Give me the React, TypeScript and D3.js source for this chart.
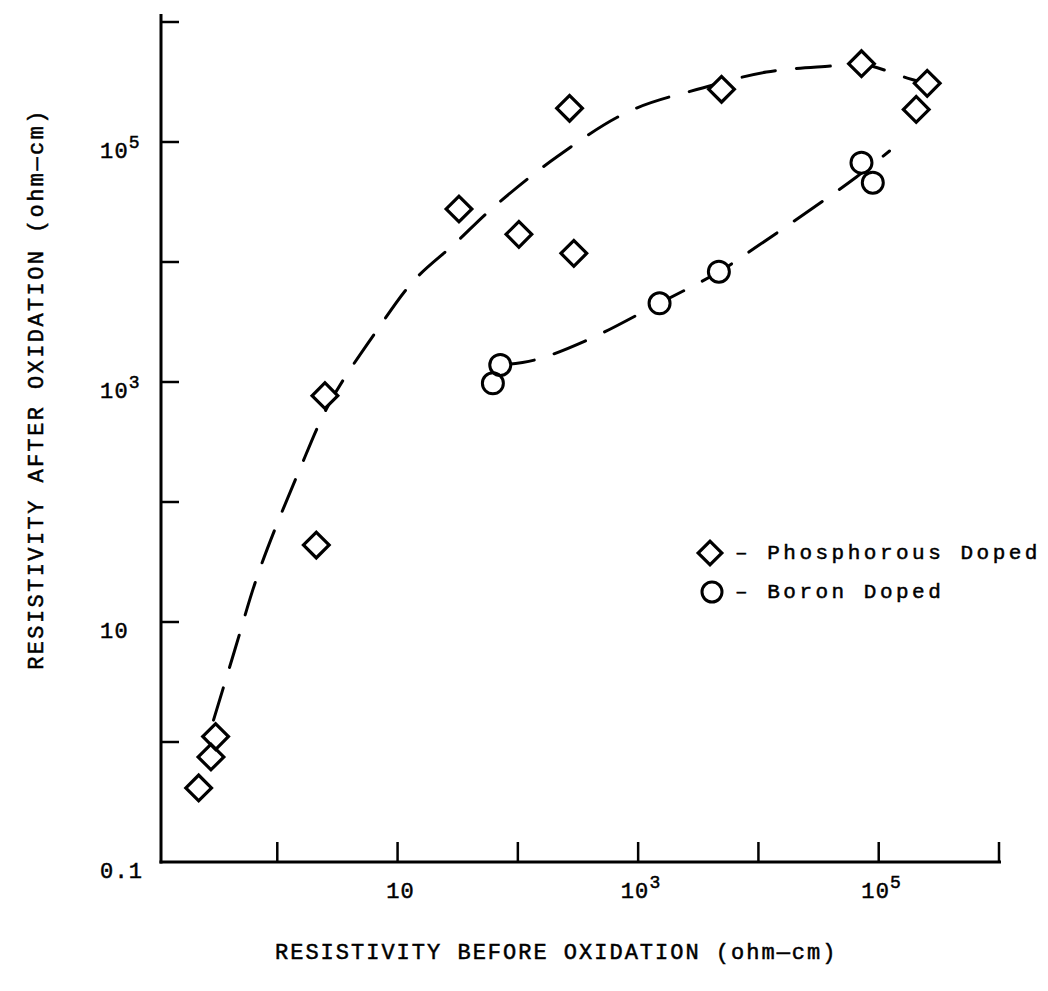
import React from "react";
import * as d3 from "d3";

// Phosphorous doped samples (resistivity before, after oxidation) in ohm-cm
const phosBefore = [0.222, 0.281, 0.307, 2.11, 2.49, 32.4, 102, 292, 269, 4935, 71900, 253000, 205000];
const phosAfter = [0.414, 0.75, 1.11, 43.8, 769, 27650, 17000, 11800, 191000, 275000, 449000, 308000, 187000];

// Boron doped samples
const boronBefore = [62, 71.4, 1507, 4690, 71900, 89300];
const boronAfter = [975, 1386, 4530, 8300, 67300, 45800];

// Hand-drawn dashed trend curves
const phosCurveX = [0.295, 0.44, 0.71, 1.53, 2.72, 6.95, 13.8, 30.3, 61.7, 210, 849, 3430, 11660, 40500, 72000, 173000, 254000];
const phosCurveY = [1.52, 5.7, 27, 185, 668, 2818, 7080, 14400, 28200, 75000, 181000, 282000, 383000, 430000, 447000, 341000, 304000];
const boronCurveX = [71.8, 138, 394, 1507, 4660, 10200, 35400, 65300, 123000];
const boronCurveY = [1386, 1525, 2280, 4545, 8250, 13900, 32900, 51100, 84100];

// Axes
const majorTicks = [1, 10, 100, 1e3, 1e4, 1e5, 1e6];
const yLabelValues = [0.1, 10, 1e3, 1e5];
const xLabelValues = [10, 1e3, 1e5];

const xTitle = "RESISTIVITY BEFORE OXIDATION (ohm\u2014cm)";
const yTitle = "RESISTIVITY AFTER OXIDATION (ohm\u2014cm)";
const legendLabels = ["\u2013 Phosphorous Doped", "\u2013 Boron Doped"];

const FONT = "'Liberation Mono', 'Courier New', monospace";

function TickLabel({ v, ...rest }: any) {
  const e = Math.round(Math.log10(v));
  if (e <= 1) {
    return <text {...rest}>{v < 1 ? String(v) : "10"}</text>;
  }
  return (
    <text {...rest}>
      10
      <tspan dy={-10} fontSize={18}>{e}</tspan>
    </text>
  );
}

export default function App() {
  const W = 1048;
  const H = 991;
  const x = d3.scaleLog().domain([0.1, 1e6]).range([157, 999]);
  const y = d3.scaleLog().domain([0.1, 1e6]).range([862, 22]);

  const line = d3
    .line<[number, number]>()
    .x((d) => x(d[0]))
    .y((d) => y(d[1]))
    .curve(d3.curveCatmullRom.alpha(0.5));

  const phosCurve = phosCurveX.map((v, i) => [v, phosCurveY[i]] as [number, number]);
  const boronCurve = boronCurveX.map((v, i) => [v, boronCurveY[i]] as [number, number]);

  const diamondPath = d3.symbol().type(d3.symbolSquare).size(330)()!;
  const legendDiamond = d3.symbol().type(d3.symbolSquare).size(280)()!;

  const axisX0 = 161;
  const axisY0 = 862;
  const textStroke = { stroke: "#000", strokeWidth: 0.5 };

  return (
    <svg
      width={W}
      height={H}
      style={{ position: "absolute", left: 0, top: 0, background: "#fff" }}
      fontFamily={FONT}
    >
      <rect width={W} height={H} fill="#fff" />

      {/* Axes */}
      <line x1={axisX0} y1={14} x2={axisX0} y2={axisY0 + 1.5} stroke="#000" strokeWidth={3} />
      <line x1={axisX0 - 1.5} y1={axisY0} x2={1001} y2={axisY0} stroke="#000" strokeWidth={3} />
      {majorTicks.map((t) => (
        <line key={"yt" + t} x1={axisX0} x2={axisX0 + 18} y1={y(t)} y2={y(t)} stroke="#000" strokeWidth={2.5} />
      ))}
      {majorTicks.map((t) => (
        <line key={"xt" + t} x1={x(t)} x2={x(t)} y1={axisY0} y2={axisY0 - 20} stroke="#000" strokeWidth={2.5} />
      ))}

      {/* Tick labels */}
      {yLabelValues.map((v) => (
        <TickLabel key={"yl" + v} v={v} x={100} y={y(v) + 16} fontSize={22} letterSpacing={1.2} fill="#000" {...textStroke} />
      ))}
      {xLabelValues.map((v) => (
        <TickLabel key={"xl" + v} v={v} x={x(v) + 3} y={axisY0 + 36} fontSize={22} letterSpacing={1.2} textAnchor="middle" fill="#000" {...textStroke} />
      ))}

      {/* Axis titles */}
      <text x={275} y={959} fontSize={22} letterSpacing={2} fill="#000" {...textStroke}>
        {xTitle}
      </text>
      <text
        transform={`translate(43, 389) rotate(-90)`}
        textAnchor="middle"
        fontSize={22}
        letterSpacing={2.4}
        fill="#000"
        {...textStroke}
      >
        {yTitle}
      </text>

      {/* Dashed curves */}
      <path d={line(phosCurve)!} fill="none" stroke="#000" strokeWidth={3} strokeDasharray="34 21" strokeLinecap="round" />
      <path d={line(boronCurve)!} fill="none" stroke="#000" strokeWidth={3} strokeDasharray="34 21" strokeLinecap="round" />

      {/* Marker underlays */}
      {phosBefore.map((v, i) => (
        <path key={"pu" + i} d={diamondPath} transform={`translate(${x(v)},${y(phosAfter[i])}) rotate(45)`} fill="#fff" />
      ))}
      {boronBefore.map((v, i) => (
        <circle key={"bu" + i} cx={x(v)} cy={y(boronAfter[i])} r={10} fill="#fff" />
      ))}

      {/* Markers */}
      {phosBefore.map((v, i) => (
        <path
          key={"p" + i}
          d={diamondPath}
          transform={`translate(${x(v)},${y(phosAfter[i])}) rotate(45)`}
          fill="none"
          stroke="#000"
          strokeWidth={3.2}
        />
      ))}
      {boronBefore.map((v, i) => (
        <circle key={"b" + i} cx={x(v)} cy={y(boronAfter[i])} r={10.5} fill="none" stroke="#000" strokeWidth={3} />
      ))}

      {/* Legend */}
      <path d={legendDiamond} transform="translate(710,553) rotate(45)" fill="none" stroke="#000" strokeWidth={3.2} />
      <circle cx={712} cy={592} r={10} fill="none" stroke="#000" strokeWidth={3} />
      <text x={735} y={559} fontSize={21} letterSpacing={3.5} fill="#000" {...textStroke}>
        {legendLabels[0]}
      </text>
      <text x={735} y={598} fontSize={21} letterSpacing={3.5} fill="#000" {...textStroke}>
        {legendLabels[1]}
      </text>
    </svg>
  );
}
